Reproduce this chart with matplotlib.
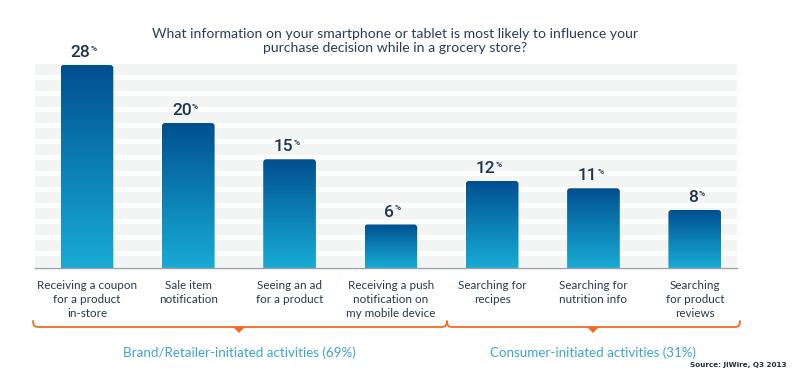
import numpy as np
import matplotlib.pyplot as plt
from matplotlib.patches import FancyBboxPatch, Polygon
from matplotlib.colors import LinearSegmentedColormap

categories = ["Receiving a coupon\nfor a product\nin-store",
              "Sale item\nnotification",
              "Seeing an ad\nfor a product",
              "Receiving a push\nnotification on\nmy mobile device",
              "Searching for\nrecipes",
              "Searching for\nnutrition info",
              "Searching\nfor product\nreviews"]
values = [28, 20, 15, 6, 12, 11, 8]
groups = ["Brand/Retailer-initiated activities (69%)",
          "Consumer-initiated activities (31%)"]
title = ("What information on your smartphone or tablet is most likely to influence your\n"
         "purchase decision while in a grocery store?")
source = "Source: JiWire, Q3 2013"

W, H = 800, 381
fig = plt.figure(figsize=(W / 100, H / 100), dpi=100)

# pixel overlay for decorations
ov = fig.add_axes([0, 0, 1, 1])
ov.set_xlim(0, W)
ov.set_ylim(H, 0)
ov.axis("off")

# main axes: left 35px, right 737px, top 64px, baseline 268px
ax = fig.add_axes([35 / W, (H - 268) / H, (737 - 35) / W, (268 - 64) / H])
ymax = 28.14
ax.set_xlim(-0.513, 6.417)
ax.set_ylim(0, ymax)
for s in ax.spines.values():
    s.set_visible(False)
ax.tick_params(left=False, labelleft=False, bottom=False)
ax.set_facecolor("white")

# striped background
per = 2.207
for k in range(13):
    top = ymax - k * per
    ax.axhspan(top - 1.52, top, color="#f3f5f5", lw=0, zorder=0)
ax.axhline(0, color="#9aa0a4", lw=1.0, zorder=3, clip_on=False)

cmap = LinearSegmentedColormap.from_list("bar", ["#18abd4", "#0c7fb5", "#004f8e"])
grad = np.linspace(0, 1, 256).reshape(-1, 1)
x = np.arange(len(values))
bw = 0.52
asp = 0.41 / 0.03
for xi, v in zip(x, values):
    patch = FancyBboxPatch((xi - bw / 2, -1), bw, v + 1,
                           boxstyle="round,pad=0,rounding_size=0.03",
                           mutation_aspect=asp, fc="none", ec="none")
    ax.add_patch(patch)
    im = ax.imshow(grad, cmap=cmap, origin="lower", aspect="auto",
                   extent=(xi - bw / 2, xi + bw / 2, 0, v), zorder=2)
    im.set_clip_path(patch)
    ax.annotate(str(v), (xi, v), xytext=(2.5, 3.5), textcoords="offset points",
                ha="right", va="bottom", fontsize=12.5, family="Roboto",
                fontweight="medium", color="#1d3550", annotation_clip=False)
    ax.annotate("%", (xi, v), xytext=(2.7, 9.5), textcoords="offset points",
                ha="left", va="bottom", fontsize=6, family="Roboto",
                fontweight="medium", color="#1d3550", annotation_clip=False)

ax.set_xticks(x)
ax.set_xticklabels(categories, fontsize=8.4, family="Lato", color="#263a4c",
                   linespacing=1.35)
ax.tick_params(axis="x", pad=5)

fig.text(0.494, 1 - 41 / H, title, ha="center", va="center", fontsize=10.1,
         family="Lato", color="#2a3d52", linespacing=1.25)

# brackets
orange = "#f26b22"
by = 327
ov.plot([33, 33.5, 35, 38, 442, 445, 446.5, 447, 447.5, 449, 452, 735, 738, 739.5, 740],
        [321, 324.5, 326.5, 327, 327, 326.5, 324.5, 321, 324.5, 326.5, 327, 327, 326.5, 324.5, 321],
        color=orange, lw=1.3, solid_capstyle="round")
centers = [239, 593]
for cx, g in zip(centers, groups):
    ov.add_patch(Polygon([[cx - 6, by], [cx + 6, by], [cx, by + 6]], closed=True,
                         fc=orange, ec="none"))
    ov.text(cx, 353, g, ha="center", va="center", fontsize=9.6, family="Lato",
            color="#3ba5cf")

ov.text(786, 365, source, ha="right", va="center", fontsize=5.2,
        fontweight="bold", color="#22303d")

fig.savefig("out.png", dpi=100)
